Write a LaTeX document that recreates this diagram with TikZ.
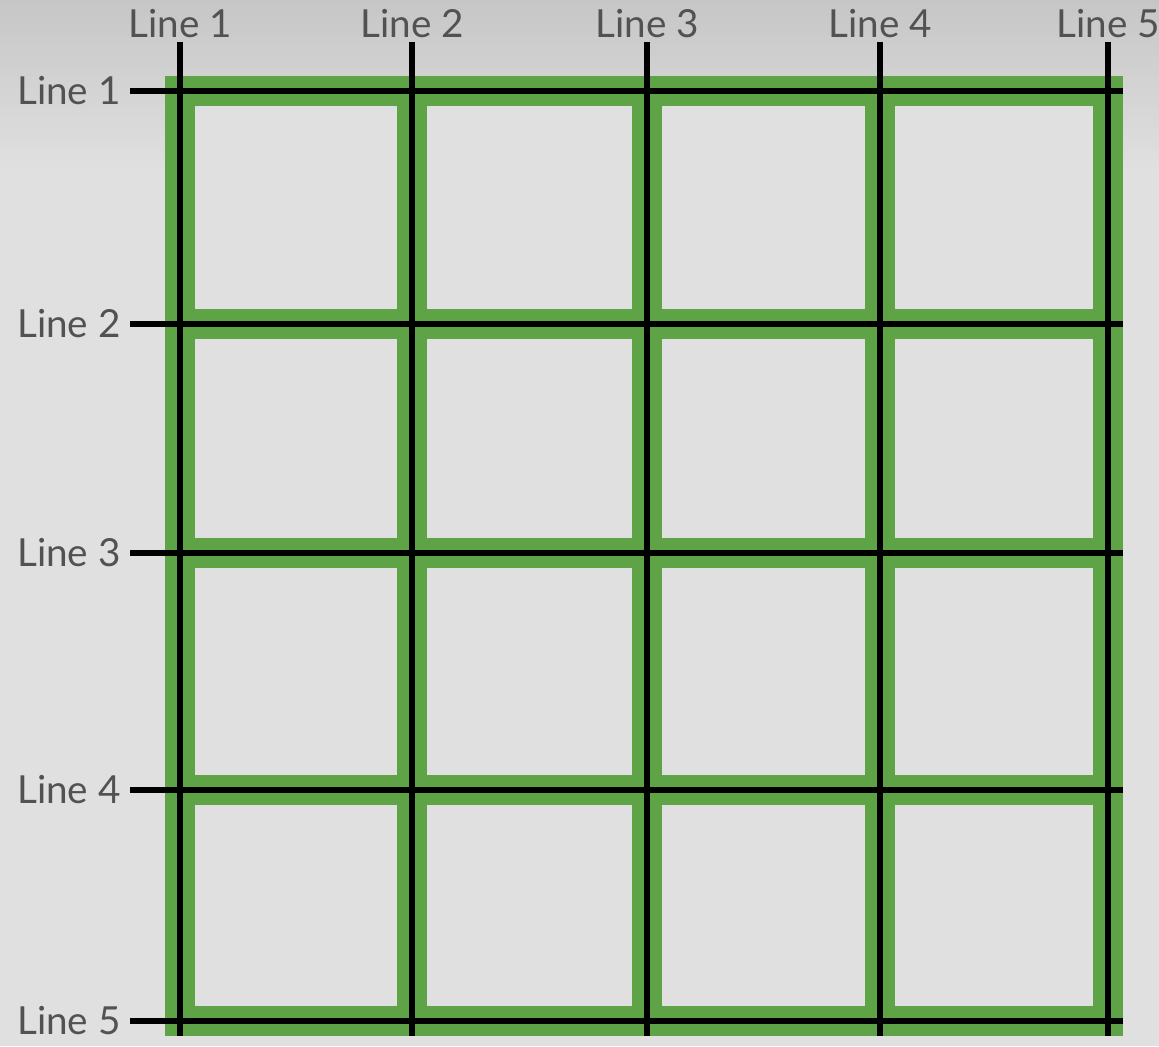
\documentclass[tikz,border=0pt]{standalone}
\usepackage{fontspec}
\setmainfont{Lato}
\usetikzlibrary{positioning}

\definecolor{cellgreen}{RGB}{94,163,70}
\definecolor{paper}{RGB}{224,224,224}
\definecolor{paperdark}{RGB}{198,198,198}
\definecolor{labelgray}{RGB}{82,82,82}

\tikzset{
  linelabel/.style={text=labelgray, font=\fontsize{22}{26}\selectfont, inner sep=0pt},
  gridline/.style={line width=3.3pt, black},
}

\begin{document}
\begin{tikzpicture}[x=0.02cm,y=-0.02cm]
   % background
   \useasboundingbox (0,0) rectangle (1159,1046);
   \fill[paper] (0,0) rectangle (1159,1046);
   \shade[top color=paperdark,bottom color=paper] (0,0) rectangle (1159,170);

   % green frame, one square per cell
   \fill[cellgreen] (165,76) rectangle (1123,1036);
   \foreach \xa/\xb in {180/412,412/647,647/880,880/1108}
     \foreach \ya/\yb in {91/324,324/553,553/790,790/1021}
       \fill[paper] (\xa+15,\ya+15) rectangle (\xb-15,\yb-15);

   % vertical lines
   \foreach \i/\x in {1/180,2/412,3/647,4/880,5/1108} {
     \node[linelabel, anchor=base] (top\i) at (\x,37) {Line \i};
     \coordinate (vstart\i) at (\x,42);
     \coordinate (vend\i) at (\x,1036);
     \draw[gridline] (vstart\i) -- (vend\i);
   }

   % horizontal lines
   \foreach \i/\y in {1/91,2/324,3/553,4/790,5/1021} {
     \node[linelabel, anchor=east] (side\i) at (121,\y) {Line \i};
     \coordinate (hstart\i) at (130,\y);
     \coordinate (hend\i) at (1123,\y);
     \draw[gridline] (hstart\i) -- (hend\i);
   }
   %\draw[red] (0,0) rectangle (1159,1046);
\end{tikzpicture}
\end{document}
